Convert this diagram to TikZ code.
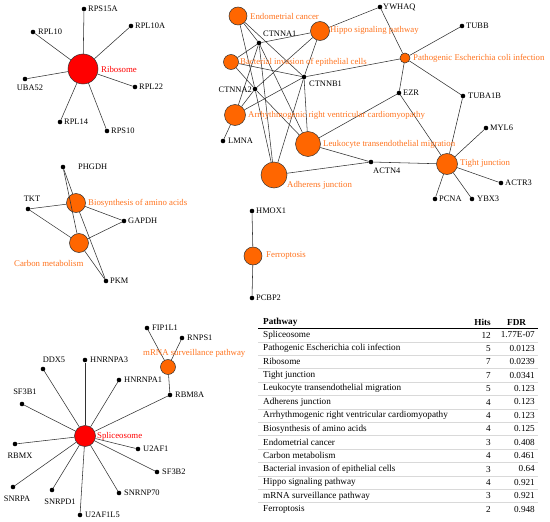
\documentclass[tikz,border=0pt]{standalone}
\usepackage{fontspec}
\setmainfont{Liberation Serif}
\definecolor{pwor}{RGB}{255,102,0}
\definecolor{pwtxt}{RGB}{255,115,30}
\definecolor{edg}{RGB}{50,50,50}
\begin{document}
\begin{tikzpicture}[x=1pt,y=-1pt,
  gene/.style={circle,fill=black,inner sep=0pt,minimum size=4.6pt},
  pw/.style={circle,draw=edg,line width=0.5pt,fill=pwor,inner sep=0pt,minimum size=#1},
  pwred/.style={circle,draw=edg,line width=0.5pt,fill=red,inner sep=0pt,minimum size=#1},
  lab/.style={font=\fontsize{8.4}{9}\selectfont,inner sep=0pt,anchor=west,text=black},
  plab/.style={lab,text=pwtxt,font=\fontsize{8.8}{10}\selectfont},
  rlab/.style={lab,text=red,font=\fontsize{8.8}{10}\selectfont},
  lnk/.style={draw=edg,line width=0.55pt},
  tab/.style={font=\fontsize{9.2}{10}\selectfont,inner sep=0pt},
  tabh/.style={font=\fontsize{9.2}{10}\selectfont\bfseries,inner sep=0pt},
  sep/.style={draw=gray!30,line width=0.3pt}]
\useasboundingbox (0,0) rectangle (550,522);

% ---------- Ribosome ----------
\node[pwred=30pt] (ribo) at (83,69) {};
\node[gene] (rps15a) at (84,9) {};
\node[gene] (rpl10a) at (131,26) {};
\node[gene] (rpl10) at (33,32) {};
\node[gene] (uba52) at (25,79) {};
\node[gene] (rpl22) at (135,87) {};
\node[gene] (rpl14) at (60,122) {};
\node[gene] (rps10) at (107,131) {};
\foreach \g in {rps15a,rpl10a,rpl10,uba52,rpl22,rpl14,rps10} \draw[lnk] (ribo) -- (\g);
\node[lab] (l-rps15a) at (88,9) {RPS15A};
\node[lab] (l-rpl10a) at (135,26) {RPL10A};
\node[lab] (l-rpl10) at (38,32) {RPL10};
\node[lab,anchor=center] (l-uba52) at (30,88) {UBA52};
\node[lab] (l-rpl22) at (139,87) {RPL22};
\node[lab] (l-rpl14) at (64,122) {RPL14};
\node[lab] (l-rps10) at (111,131) {RPS10};
\node[rlab] (l-ribo) at (101,69) {Ribosome};

% ---------- Top-right network ----------
\node[pw=18pt] (endo) at (238,16) {};
\node[pw=19pt] (hippo) at (320,31) {};
\node[pw=15pt] (bact) at (231,62) {};
\node[pw=21pt] (arvc) at (235,115) {};
\node[pw=25pt] (leuk) at (308,144) {};
\node[pw=26pt] (adh) at (274,175) {};
\node[pw=10pt] (ecoli) at (405,58) {};
\node[pw=21pt] (tight) at (447,164) {};
\node[gene] (ctnna1) at (259,43) {};
\node[gene] (ctnnb1) at (304,77) {};
\node[gene] (ctnna2) at (255,89) {};
\node[gene] (lmna) at (223,141) {};
\node[gene] (actn4) at (371,162) {};
\node[gene] (ezr) at (399,93) {};
\node[gene] (ywhaq) at (380,7) {};
\node[gene] (tubb) at (462,26) {};
\node[gene] (tuba1b) at (463,96) {};
\node[gene] (myl6) at (486,128) {};
\node[gene] (actr3) at (501,183) {};
\node[gene] (pcna) at (435,199) {};
\node[gene] (ybx3) at (472,199) {};
\foreach \g in {ctnna1,ctnna2,ctnnb1} \draw[lnk] (endo) -- (\g);
\foreach \g in {ctnna1,ctnna2,ctnnb1,ywhaq} \draw[lnk] (hippo) -- (\g);
\foreach \g in {ctnna1,ctnna2,ctnnb1} \draw[lnk] (bact) -- (\g);
\foreach \g in {ctnna1,ctnna2,ctnnb1,lmna} \draw[lnk] (arvc) -- (\g);
\foreach \g in {ctnna1,ctnna2,ctnnb1,ezr,actn4} \draw[lnk] (leuk) -- (\g);
\foreach \g in {ctnna1,ctnna2,ctnnb1,actn4} \draw[lnk] (adh) -- (\g);
\foreach \g in {ctnnb1,ywhaq,tubb,tuba1b,ezr} \draw[lnk] (ecoli) -- (\g);
\foreach \g in {ezr,tuba1b,actn4,myl6,actr3,pcna,ybx3} \draw[lnk] (tight) -- (\g);
\node[plab] (l-endo) at (250,16) {Endometrial cancer};
\node[plab] (l-hippo) at (330,30) {Hippo signaling pathway};
\node[lab] (l-ctnna1) at (263,34) {CTNNA1};
\node[plab] (l-bact) at (240,62) {Bacterial invasion of epithelial cells};
\node[lab] (l-ctnnb1) at (309,84) {CTNNB1};
\node[lab,anchor=east] (l-ctnna2) at (252,90) {CTNNA2};
\node[plab] (l-arvc) at (248,115) {Arrhythmogenic right ventricular cardiomyopathy};
\node[lab] (l-lmna) at (228,141) {LMNA};
\node[plab] (l-leuk) at (323,144) {Leukocyte transendothelial migration};
\node[plab] (l-adh) at (287,185) {Adherens junction};
\node[lab] (l-actn4) at (373,171) {ACTN4};
\node[lab] (l-ywhaq) at (383,7) {YWHAQ};
\node[lab] (l-tubb) at (466,26) {TUBB};
\node[plab] (l-ecoli) at (413,58) {Pathogenic Escherichia coli infection};
\node[lab] (l-ezr) at (403,93) {EZR};
\node[lab] (l-tuba1b) at (468,96) {TUBA1B};
\node[lab] (l-myl6) at (490,128) {MYL6};
\node[plab] (l-tight) at (460,163) {Tight junction};
\node[lab] (l-actr3) at (505,183) {ACTR3};
\node[lab] (l-pcna) at (439,199) {PCNA};
\node[lab] (l-ybx3) at (477,199) {YBX3};

% ---------- Amino acids / carbon ----------
\node[pw=19pt] (bio) at (76,203) {};
\node[pw=19pt] (carb) at (79,243) {};
\node[gene] (phgdh) at (63,167) {};
\node[gene] (tkt) at (28,209) {};
\node[gene] (gapdh) at (124,221) {};
\node[gene] (pkm) at (106,281) {};
\foreach \g in {phgdh,tkt,gapdh,pkm} {\draw[lnk] (bio) -- (\g); \draw[lnk] (carb) -- (\g);}
\node[lab] (l-phgdh) at (78,167) {PHGDH};
\node[lab,anchor=center] (l-tkt) at (32,199) {TKT};
\node[plab] (l-bio) at (88,203) {Biosynthesis of amino acids};
\node[lab] (l-gapdh) at (128,221) {GAPDH};
\node[plab] (l-carb) at (14,263) {Carbon metabolism};
\node[lab] (l-pkm) at (110,281) {PKM};

% ---------- Ferroptosis ----------
\node[pw=18pt] (ferr) at (253,256) {};
\node[gene] (hmox1) at (252,211) {};
\node[gene] (pcbp2) at (252,298) {};
\draw[lnk] (ferr) -- (hmox1);
\draw[lnk] (ferr) -- (pcbp2);
\node[lab] (l-hmox1) at (256,211) {HMOX1};
\node[plab] (l-ferr) at (266,256) {Ferroptosis};
\node[lab] (l-pcbp2) at (256,298) {PCBP2};

% ---------- Spliceosome ----------
\node[pwred=21pt] (spl) at (85,436) {};
\node[pw=15pt] (mrna) at (168,367) {};
\node[gene] (ddx5) at (43,369) {};
\node[gene] (hnrnpa3) at (85,360) {};
\node[gene] (hnrnpa1) at (119,380) {};
\node[gene] (sf3b1) at (22,404) {};
\node[gene] (rbmx) at (15,444) {};
\node[gene] (snrpa) at (13,487) {};
\node[gene] (snrpd1) at (52,490) {};
\node[gene] (u2af1l5) at (80,515) {};
\node[gene] (snrnp70) at (119,493) {};
\node[gene] (sf3b2) at (157,472) {};
\node[gene] (u2af1) at (138,449) {};
\node[gene] (rbm8a) at (170,395) {};
\node[gene] (fip1l1) at (147,328) {};
\node[gene] (rnps1) at (182,338) {};
\foreach \g in {ddx5,hnrnpa3,hnrnpa1,sf3b1,rbmx,snrpa,snrpd1,u2af1l5,snrnp70,sf3b2,u2af1,rbm8a} \draw[lnk] (spl) -- (\g);
\foreach \g in {fip1l1,rnps1,rbm8a} \draw[lnk] (mrna) -- (\g);
\node[lab,anchor=center] (l-ddx5) at (54,360) {DDX5};
\node[lab] (l-hnrnpa3) at (90,360) {HNRNPA3};
\node[lab] (l-hnrnpa1) at (124,380) {HNRNPA1};
\node[lab,anchor=center] (l-sf3b1) at (25,392) {SF3B1};
\node[rlab] (l-spl) at (97,436) {Spliceosome};
\node[lab,anchor=center] (l-rbmx) at (20,456) {RBMX};
\node[lab] (l-u2af1) at (143,449) {U2AF1};
\node[lab] (l-sf3b2) at (162,472) {SF3B2};
\node[lab,anchor=center] (l-snrpa) at (17,499) {SNRPA};
\node[lab,anchor=center] (l-snrpd1) at (60,502) {SNRPD1};
\node[lab] (l-snrnp70) at (124,493) {SNRNP70};
\node[lab] (l-u2af1l5) at (85,515) {U2AF1L5};
\node[lab] (l-rbm8a) at (175,395) {RBM8A};
\node[lab] (l-fip1l1) at (152,328) {FIP1L1};
\node[lab] (l-rnps1) at (187,338) {RNPS1};
\node[plab] (l-mrna) at (143,353) {mRNA surveillance pathway};

% ---------- Table ----------
\node[tabh,anchor=west] (th-p) at (263,322.5) {Pathway};
\node[tabh,anchor=east] (th-h) at (491,322.5) {Hits};
\node[tabh,anchor=west] (th-f) at (507,322.5) {FDR};
\draw[line width=1.1pt] (258,328.5) -- (538,328.5);
\foreach \i in {0,...,12} \draw[sep] (258,{341.7+13.4*\i}) -- (538,{341.7+13.4*\i});
\foreach \n/\h/\f [count=\i from 0] in {
  Spliceosome/12/1.77E-07,
  Pathogenic Escherichia coli infection/5/0.0123,
  Ribosome/7/0.0239,
  Tight junction/7/0.0341,
  Leukocyte transendothelial migration/5/0.123,
  Adherens junction/4/0.123,
  Arrhythmogenic right ventricular cardiomyopathy/4/0.123,
  Biosynthesis of amino acids/4/0.125,
  Endometrial cancer/3/0.408,
  Carbon metabolism/4/0.461,
  Bacterial invasion of epithelial cells/3/0.64,
  Hippo signaling pathway/4/0.921,
  mRNA surveillance pathway/3/0.921,
  Ferroptosis/2/0.948} {
  \node[tab,anchor=west] (tp\i) at (263,{335+13.4*\i}) {\n};
  \node[tab,anchor=east] (th\i) at (491,{335+13.4*\i}) {\h};
  \node[tab,anchor=east] (tf\i) at (535,{335+13.4*\i}) {\f};
}
\end{tikzpicture}
\end{document}
